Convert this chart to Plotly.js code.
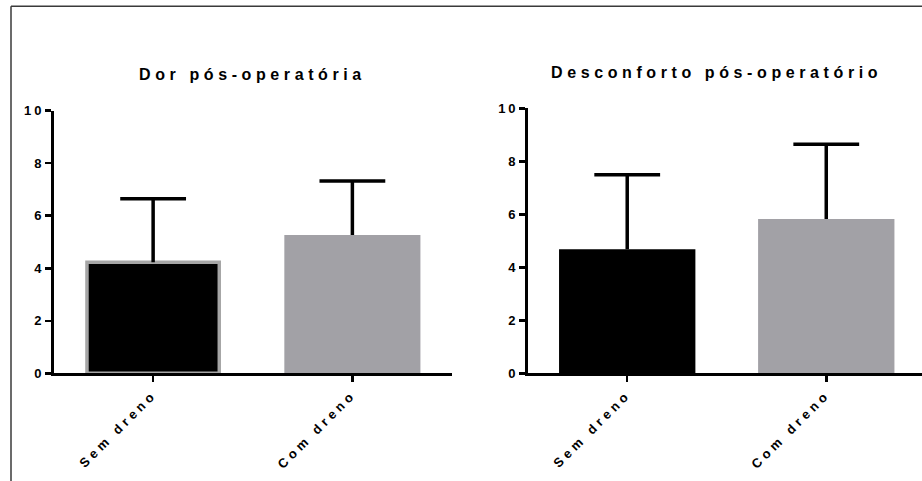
<!DOCTYPE html>
<html><head><meta charset="utf-8">
<script src="https://cdn.plot.ly/plotly-3.0.1.min.js"></script>
<style>
body{margin:0;background:#fff}
#chart{width:922px;height:481px}
.xaxislayer-above text{letter-spacing:4px}
.yaxislayer-above text{letter-spacing:3px}
.annotation-text{letter-spacing:4.6px}
</style></head><body><div id="chart"></div>
<script>
const categories = ['Sem dreno', 'Com dreno'];
const dorMeans = [4.23, 5.27];
const dorSD = [2.42, 2.05];
const descMeans = [4.68, 5.82];
const descSD = [2.81, 2.82];
const yTicks = [0, 2, 4, 6, 8, 10];
const titles = ['Dor pós-operatória', 'Desconforto pós-operatório'];

const W = 922, H = 481;
const px = v => v / W;
const py = v => 1 - v / H;
const FONT = 'Liberation Sans, Arial, sans-serif';
const BLACK = '#000000', GRAY = '#a2a1a6', OUTLINE = '#a6a6a6';

function barTrace(means, sd, xa, ya, widths, lineColors, lineWidths) {
  return {
    type: 'bar', x: categories, y: means, xaxis: xa, yaxis: ya,
    width: widths,
    marker: {color: [BLACK, GRAY], line: {color: lineColors, width: lineWidths}},
    error_y: {type: 'data', symmetric: false, array: sd, arrayminus: [0, 0],
              width: 0, thickness: 3.5, color: BLACK},
    hoverinfo: 'skip', showlegend: false
  };
}
function capTrace(means, sd, xa, ya) {
  return {
    type: 'scatter', mode: 'markers', x: categories,
    y: means.map((m, i) => m + sd[i]), xaxis: xa, yaxis: ya,
    marker: {symbol: 'line-ew', size: 47, color: BLACK, line: {color: BLACK, width: 3.5}},
    cliponaxis: false, hoverinfo: 'skip', showlegend: false
  };
}

const data = [
  barTrace(dorMeans, dorSD, 'x', 'y', [0.664, 0.683], [OUTLINE, GRAY], [3.5, 0]),
  capTrace(dorMeans, dorSD, 'x', 'y'),
  barTrace(descMeans, descSD, 'x2', 'y2', [0.685, 0.685], [BLACK, GRAY], [0, 0]),
  capTrace(descMeans, descSD, 'x2', 'y2')
];

const xBase = {
  type: 'category', showline: true, linewidth: 2.5, linecolor: BLACK,
  ticks: 'outside', ticklen: 6, tickwidth: 2.5, tickcolor: BLACK,
  tickangle: -45, tickfont: {family: FONT, size: 13, color: BLACK, weight: 'bold'},
  showgrid: false, zeroline: false, fixedrange: true
};
const yBase = {
  range: [0, 10], tickmode: 'array', tickvals: yTicks, ticktext: yTicks.map(String),
  showline: true, linewidth: 2.5, linecolor: BLACK,
  ticks: 'outside', ticklen: 6, tickwidth: 2.5, tickcolor: BLACK,
  tickfont: {family: FONT, size: 13, color: BLACK, weight: 'bold'},
  ticklabelstandoff: -2,
  showgrid: false, zeroline: false, fixedrange: true
};

const layout = {
  width: W, height: H, margin: {l: 0, r: 0, t: 0, b: 0},
  paper_bgcolor: '#fff', plot_bgcolor: 'rgba(0,0,0,0)',
  showlegend: false, bargap: 0,
  xaxis: Object.assign({}, xBase, {domain: [px(53.5), px(452)], range: [-0.5, 1.5], anchor: 'y'}),
  yaxis: Object.assign({}, yBase, {domain: [py(373.3), py(110.7)], anchor: 'x'}),
  xaxis2: Object.assign({}, xBase, {domain: [px(527.7), 1], range: [-0.5, 1.481], anchor: 'y2'}),
  yaxis2: Object.assign({}, yBase, {domain: [py(373.3), py(108.3)], anchor: 'x2'}),
  annotations: [
    {text: titles[0], xref: 'paper', yref: 'paper', x: px(252.5), y: py(74),
     xanchor: 'center', yanchor: 'middle', showarrow: false,
     font: {family: FONT, size: 16, color: BLACK, weight: 'bold'}},
    {text: titles[1], xref: 'paper', yref: 'paper', x: px(716.5), y: py(73),
     xanchor: 'center', yanchor: 'middle', showarrow: false,
     font: {family: FONT, size: 16, color: BLACK, weight: 'bold'}}
  ],
  shapes: [
    {type: 'line', xref: 'paper', yref: 'paper', x0: px(11), x1: px(11), y0: 0, y1: py(6.3),
     line: {color: '#3a3a3a', width: 1.5}},
    {type: 'line', xref: 'paper', yref: 'paper', x0: px(11), x1: 1, y0: py(6.3), y1: py(6.3),
     line: {color: '#3a3a3a', width: 1.5}}
  ]
};

Plotly.newPlot('chart', data, layout, {displayModeBar: false, staticPlot: true});
</script></body></html>
